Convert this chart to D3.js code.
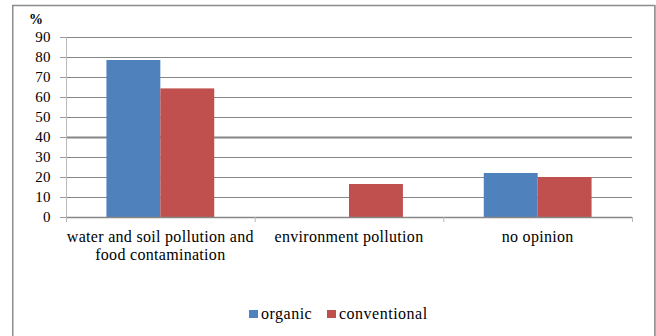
<!DOCTYPE html>
<html>
<head>
<meta charset="utf-8">
<script src="https://cdn.jsdelivr.net/npm/d3@7"></script>
<style>
  html, body { margin: 0; padding: 0; background: #fff; }
  svg { display: block; }
</style>
</head>
<body>
<svg id="chart" width="656" height="336"></svg>
<script>
// Chart data
const categories = [
  ["water and soil pollution and", "food contamination"],
  ["environment pollution"],
  ["no opinion"]
];
const seriesNames = ["organic", "conventional"];
const organic = [78.5, 0, 22];
const conventional = [64.3, 16.5, 20];
const yTicks = [0, 10, 20, 30, 40, 50, 60, 70, 80, 90];
const yUnit = "%";

const colors = { organic: "#4F81BD", conventional: "#C0504D" };
const SERIF = "'Liberation Serif'";

const svg = d3.select("#chart");
const W = 656, H = 336;
const margin = { left: 66, right: 24, top: 37, bottom: 119 };
const plotW = W - margin.left - margin.right;
const plotH = H - margin.top - margin.bottom;

svg.append("rect").attr("width", W).attr("height", H).attr("fill", "#fff");

// Outer frame
svg.append("rect")
  .attr("x", 12.75).attr("y", 5.5)
  .attr("width", 642).attr("height", 340)
  .attr("fill", "none").attr("stroke", "#8c8c8c").attr("stroke-width", 1.5);
svg.append("line")
  .attr("x1", 655).attr("x2", 655).attr("y1", 5).attr("y2", H)
  .attr("stroke", "#9a9a9a").attr("stroke-width", 1.2);

const g = svg.append("g").attr("transform", `translate(${margin.left},${margin.top})`);

const x0 = d3.scaleBand().domain(d3.range(categories.length)).range([0, plotW]).paddingInner(0).paddingOuter(0);
const x1 = d3.scaleBand().domain(seriesNames).range([0, x0.bandwidth()]).paddingInner(0).paddingOuter(0.75);
const y = d3.scaleLinear().domain([0, 90]).range([plotH, 0]);

// Horizontal gridlines
g.append("g").selectAll("line")
  .data(yTicks.filter(t => t > 0))
  .join("line")
  .attr("x1", 0).attr("x2", plotW)
  .attr("y1", d => Math.round(y(d)) + 0.5).attr("y2", d => Math.round(y(d)) + 0.5)
  .attr("stroke", "#868686")
  .attr("stroke-width", d => d === 40 ? 2 : 1.2);

// Bars
const data = categories.map((c, i) => ({ i, values: [
  { key: "organic", value: organic[i] },
  { key: "conventional", value: conventional[i] }
]}));

g.append("g").selectAll("g")
  .data(data)
  .join("g")
  .attr("transform", d => `translate(${x0(d.i)},0)`)
  .selectAll("rect")
  .data(d => d.values.filter(v => v.value > 0))
  .join("rect")
  .attr("x", d => x1(d.key))
  .attr("width", x1.bandwidth())
  .attr("y", d => y(d.value))
  .attr("height", d => plotH - y(d.value))
  .attr("fill", d => colors[d.key]);

// Y axis
const yAxis = g.append("g")
  .call(d3.axisLeft(y).tickValues(yTicks).tickSize(6).tickPadding(9));
yAxis.attr("font-family", null).attr("font-size", null);
yAxis.select(".domain").attr("stroke", "#b8b8b8").attr("d", `M0.5,${plotH}V0`);
yAxis.selectAll(".tick line").attr("stroke", "#9a9a9a");
yAxis.selectAll(".tick text")
  .style("font-family", SERIF)
  .style("font-size", "15px")
  .style("letter-spacing", "0.4px")
  .attr("fill", "#000");

// X axis
const xAxis = g.append("g")
  .attr("transform", `translate(0,${plotH})`)
  .call(d3.axisBottom(d3.scaleLinear().domain([0, categories.length]).range([0, plotW]))
    .tickValues(d3.range(categories.length + 1)).tickSize(5).tickFormat(""));
xAxis.select(".domain").attr("stroke", "#868686").attr("stroke-width", 1.3).attr("d", `M0,0.5H${plotW}`);
xAxis.selectAll(".tick line").attr("stroke", "#b8b8b8");

// Category labels
const labels = g.append("g").attr("transform", `translate(0,${plotH})`);
categories.forEach((lines, i) => {
  const t = labels.append("text")
    .attr("x", x0(i) + x0.bandwidth() / 2)
    .attr("y", 25)
    .attr("text-anchor", "middle")
    .style("font-family", SERIF)
    .style("font-size", "16px")
    .style("letter-spacing", "0.3px");
  lines.forEach((ln, k) => {
    t.append("tspan").attr("x", x0(i) + x0.bandwidth() / 2).attr("dy", k === 0 ? 0 : 18)
      .style("font-family", SERIF).text(ln);
  });
});

// Unit label
svg.append("text")
  .attr("x", 29).attr("y", 24)
  .style("font-family", SERIF)
  .style("font-size", "14px").style("font-weight", "bold")
  .text(yUnit);

// Legend
const legend = svg.append("g").attr("transform", "translate(249,310)");
const legendX = [0, 78];
seriesNames.forEach((name, i) => {
  const lg = legend.append("g").attr("transform", `translate(${legendX[i]},0)`);
  lg.append("rect").attr("width", 9).attr("height", 8).attr("fill", colors[name]);
  lg.append("text").attr("x", 12).attr("y", 9)
    .style("font-family", SERIF).style("font-size", "16px")
    .style("letter-spacing", "0.5px").text(name);
});
</script>
</body>
</html>
